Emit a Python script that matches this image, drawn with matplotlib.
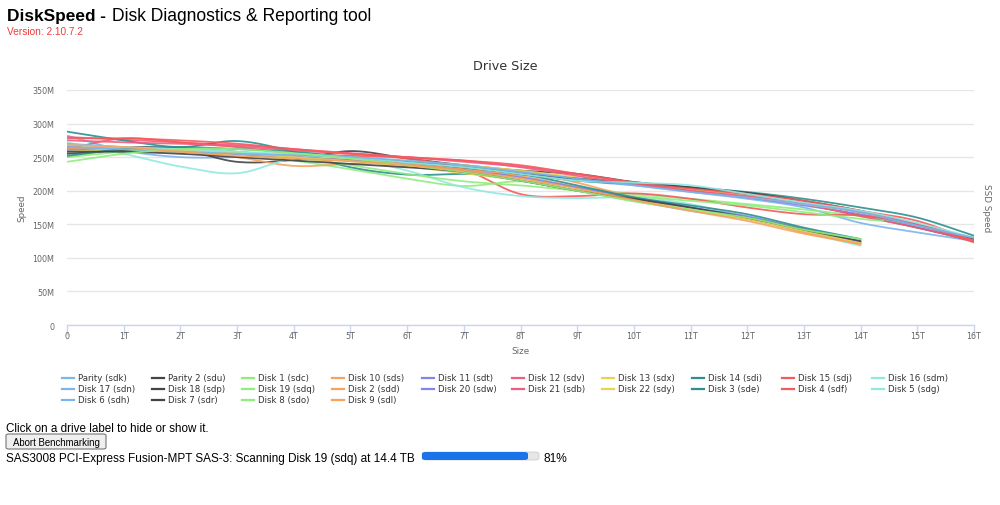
import numpy as np
import matplotlib
matplotlib.use("Agg")
import matplotlib.pyplot as plt
from matplotlib.patches import FancyBboxPatch
from matplotlib.lines import Line2D

W, H = 1000, 506

# ---------------- data ----------------
size_16 = list(range(17))          # TB positions for 16T drives
size_14 = list(range(15))          # TB positions for 14T drives
size_19 = list(range(15)) + [14.4] # Disk 19 still being scanned

series_names = ["Parity (sdk)", "Parity 2 (sdu)", "Disk 1 (sdc)", "Disk 10 (sds)",
                "Disk 11 (sdt)", "Disk 12 (sdv)", "Disk 13 (sdx)", "Disk 14 (sdi)",
                "Disk 15 (sdj)", "Disk 16 (sdm)", "Disk 17 (sdn)", "Disk 18 (sdp)",
                "Disk 19 (sdq)", "Disk 2 (sdd)", "Disk 20 (sdw)", "Disk 21 (sdb)",
                "Disk 22 (sdy)", "Disk 3 (sde)", "Disk 4 (sdf)", "Disk 5 (sdg)",
                "Disk 6 (sdh)", "Disk 7 (sdr)", "Disk 8 (sdo)", "Disk 9 (sdl)"]

parity_sdk  = [282, 260, 250, 250, 252, 250, 243, 235, 225, 215, 208, 198, 188, 175, 152, 138, 125]
parity2_sdu = [262, 265, 262, 243, 246, 259, 248, 238, 230, 225, 213, 205, 195, 180, 163, 145, 125]
disk1_sdc   = [250, 262, 262, 255, 245, 232, 218, 207, 214, 205, 195, 188, 180, 172, 162, 148, 130]
disk10_sds  = [265, 262, 258, 250, 237, 240, 242, 238, 228, 212, 190, 175, 160, 140, 123]
disk11_sdt  = [265, 262, 258, 255, 252, 248, 242, 236, 228, 218, 210, 200, 190, 178, 165, 148, 127]
disk12_sdv  = [280, 276, 272, 268, 262, 256, 250, 243, 236, 225, 212, 200, 190, 180, 162, 145, 125]
disk13_sdx  = [262, 260, 258, 256, 252, 248, 244, 238, 230, 220, 212, 202, 192, 180, 168, 150, 128]
disk14_sdi  = [288, 275, 265, 274, 258, 235, 224, 225, 224, 215, 210, 205, 198, 188, 175, 160, 133]
disk15_sdj  = [262, 278, 272, 265, 255, 252, 248, 232, 195, 192, 196, 188, 175, 165, 163, 150, 123]
disk16_sdm  = [272, 255, 236, 226, 248, 248, 230, 205, 192, 189, 190, 180, 160, 138, 118]
disk17_sdn  = [270, 265, 260, 255, 250, 245, 240, 230, 215, 200, 185, 170, 158, 140, 122]
disk18_sdp  = [255, 260, 262, 258, 250, 245, 240, 233, 225, 218, 212, 205, 197, 185, 170, 150, 128]
disk19_sdq  = [250, 258, 262, 258, 250, 238, 225, 214, 208, 200, 192, 185, 178, 168, 158, 155]
disk2_sdd   = [262, 265, 260, 255, 250, 245, 240, 232, 222, 205, 188, 172, 158, 138, 120]
disk20_sdw  = [260, 262, 260, 255, 250, 245, 238, 230, 220, 205, 190, 175, 162, 143, 124]
disk21_sdb  = [275, 272, 270, 266, 260, 255, 250, 245, 235, 222, 210, 200, 192, 182, 168, 150, 126]
disk22_sdy  = [258, 262, 260, 256, 250, 244, 236, 226, 215, 200, 186, 172, 158, 140, 122]
disk3_sde   = [252, 262, 265, 262, 258, 250, 243, 235, 225, 208, 190, 178, 165, 145, 128]
disk4_sdf   = [278, 278, 275, 270, 262, 255, 250, 245, 238, 225, 212, 203, 195, 185, 170, 155, 125]
disk5_sdg   = [268, 265, 262, 258, 255, 250, 242, 235, 225, 215, 212, 208, 195, 182, 170, 152, 130]
disk6_sdh   = [265, 262, 258, 255, 253, 250, 245, 238, 228, 218, 208, 198, 190, 180, 168, 148, 130]
disk7_sdr   = [258, 258, 255, 250, 245, 240, 235, 228, 215, 200, 188, 175, 160, 142, 125]
disk8_sdo   = [243, 255, 262, 262, 256, 248, 238, 228, 215, 200, 184, 172, 160, 142, 128]
disk9_sdl   = [268, 265, 258, 252, 248, 244, 238, 230, 218, 203, 186, 170, 155, 136, 121]

series_speeds = [parity_sdk, parity2_sdu, disk1_sdc, disk10_sds, disk11_sdt, disk12_sdv,
                 disk13_sdx, disk14_sdi, disk15_sdj, disk16_sdm, disk17_sdn, disk18_sdp,
                 disk19_sdq, disk2_sdd, disk20_sdw, disk21_sdb, disk22_sdy, disk3_sde,
                 disk4_sdf, disk5_sdg, disk6_sdh, disk7_sdr, disk8_sdo, disk9_sdl]

x_ticks = list(range(17))
x_tick_labels = ["0"] + [f"{t}T" for t in range(1, 17)]
y_ticks = [0, 50, 100, 150, 200, 250, 300, 350]
y_tick_labels = ["0", "50M", "100M", "150M", "200M", "250M", "300M", "350M"]

palette = ["#7cb5ec", "#434348", "#90ed7d", "#f7a35c", "#8085e9",
           "#f15c80", "#e4d354", "#2b908f", "#f45b5b", "#91e8e1"]


def sizes_for(speeds):
    if len(speeds) == len(size_19):
        return size_19
    return size_16 if len(speeds) == 17 else size_14


def spline(xs, ys, n=24):
    """Smooth (cubic Hermite) rendering of a line through the data points."""
    xs = np.asarray(xs, float); ys = np.asarray(ys, float)
    m = np.zeros_like(ys)
    m[1:-1] = (ys[2:] - ys[:-2]) / (xs[2:] - xs[:-2])
    m[0] = (ys[1] - ys[0]) / (xs[1] - xs[0])
    m[-1] = (ys[-1] - ys[-2]) / (xs[-1] - xs[-2])
    ox, oy = [], []
    for i in range(len(xs) - 1):
        h = xs[i + 1] - xs[i]
        t = np.linspace(0, 1, n, endpoint=False)
        h00 = 2*t**3 - 3*t**2 + 1; h10 = t**3 - 2*t**2 + t
        h01 = -2*t**3 + 3*t**2;    h11 = t**3 - t**2
        ox.append(xs[i] + t*h)
        oy.append(h00*ys[i] + h10*h*m[i] + h01*ys[i+1] + h11*h*m[i+1])
    ox.append([xs[-1]]); oy.append([ys[-1]])
    return np.concatenate(ox), np.concatenate(oy)


def fx(x):
    return x / W


def fy(y):
    return 1 - y / H


fig = plt.figure(figsize=(W/100, H/100), dpi=100)
fig.patch.set_facecolor("white")

# ---------------- chart ----------------
ax = fig.add_axes([fx(67), fy(326), fx(974) - fx(67), fy(91) - fy(326)])
ax.set_xlim(0, 16)
ax.set_ylim(0, 350)
for i, (name, sp) in enumerate(zip(series_names, series_speeds)):
    sx, sy = spline(sizes_for(sp), sp)
    ax.plot(sx, sy, color=palette[i % 10], lw=1.3, alpha=0.9, solid_capstyle="round", zorder=3)

ax.set_xticks(x_ticks)
ax.set_xticklabels(x_tick_labels)
ax.set_yticks(y_ticks)
ax.set_yticklabels(y_tick_labels)
ax.grid(axis="y", color="#e6e6e6", lw=1)
ax.set_axisbelow(True)
for s in ["top", "right", "left"]:
    ax.spines[s].set_visible(False)
ax.spines["bottom"].set_color("#ccd6eb")
ax.spines["bottom"].set_linewidth(1)
ax.tick_params(axis="x", colors="#ccd6eb", length=7, width=1, labelcolor="#666666",
               labelsize=5.8, pad=-2.5)
ax.tick_params(axis="y", length=0, labelcolor="#666666", labelsize=5.8, pad=9)
ax.set_xlabel("Size", fontsize=6.3, color="#666666", labelpad=4)
ax.set_ylabel("Speed", fontsize=6.3, color="#666666", labelpad=4)
fig.text(fx(986), fy(208), "SSD Speed", rotation=-90, fontsize=6.3, color="#666666",
         ha="center", va="center")
fig.text(fx(505), fy(66), "Drive Size", fontsize=9.2, color="#333333", ha="center", va="center")

# ---------------- legend ----------------
for i, name in enumerate(series_names):
    col, row = i % 10, i // 10
    x0 = 62 + 90 * col
    y0 = 379 + 10.8 * row
    fig.add_artist(Line2D([fx(x0), fx(x0 + 12)], [fy(y0), fy(y0)], color=palette[col], lw=1.6))
    fig.text(fx(x0 + 16), fy(y0), name, fontsize=6.2, color="#333333", ha="left", va="center")

# ---------------- page texts ----------------
renderer = fig.canvas.get_renderer()


def fit_text(x, y, s, width, **kw):
    t = fig.text(fx(x), fy(y), s, **kw)
    bb = t.get_window_extent(renderer)
    t.set_fontsize(t.get_fontsize() * width / bb.width)
    return t


arial = "Liberation Sans"
fit_text(7, 21, "DiskSpeed -", 99, fontsize=14, fontweight="bold", family=arial,
         color="black", va="baseline")
fit_text(112, 21, "Disk Diagnostics & Reporting tool", 262, fontsize=14, family=arial,
         color="black", va="baseline")
fit_text(7, 35, "Version: 2.10.7.2", 76, fontsize=8, family=arial, color="#f03c3c", va="baseline")
fit_text(6, 432, "Click on a drive label to hide or show it.", 204, fontsize=9, family=arial,
         color="black", va="baseline")

btn = FancyBboxPatch((fx(6), fy(450)), fx(100), fy(435) - fy(450),
                     boxstyle="round,pad=0,rounding_size=0.003", transform=fig.transFigure,
                     facecolor="#efefef", edgecolor="#767676", lw=0.8)
fig.add_artist(btn)
fit_text(56, 443, "Abort Benchmarking", 88, fontsize=8, family=arial, color="black",
         ha="center", va="center")

fit_text(6, 462, "SAS3008 PCI-Express Fusion-MPT SAS-3: Scanning Disk 19 (sdq) at 14.4 TB", 412,
         fontsize=9, family=arial, color="black", va="baseline")

bar_bg = FancyBboxPatch((fx(422), fy(461)), fx(117), fy(453) - fy(461),
                        boxstyle="round,pad=0,rounding_size=0.004", transform=fig.transFigure,
                        facecolor="#e6e6e6", edgecolor="#c8c8c8", lw=0.5)
fig.add_artist(bar_bg)
bar_fg = FancyBboxPatch((fx(422), fy(461)), fx(106), fy(453) - fy(461),
                        boxstyle="round,pad=0,rounding_size=0.004", transform=fig.transFigure,
                        facecolor="#1a73e8", edgecolor="none")
fig.add_artist(bar_fg)
fit_text(543, 462, "81%", 24, fontsize=9, family=arial, color="black", va="baseline")

fig.savefig("out.png", dpi=100, facecolor="white")
